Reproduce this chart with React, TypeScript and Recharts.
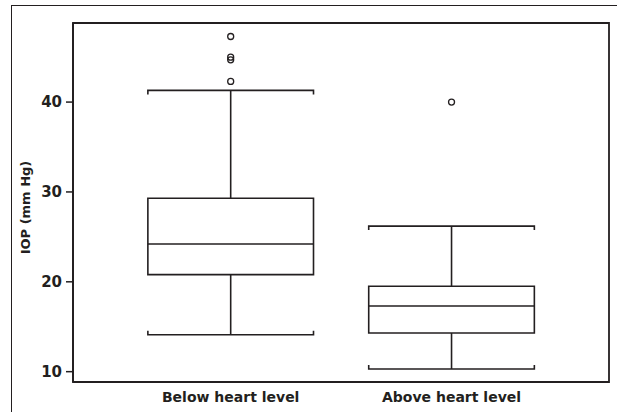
import React from "react";
import {
  ComposedChart,
  XAxis,
  YAxis,
  Scatter,
  ReferenceArea,
  ReferenceLine,
} from "recharts";

const categories = ["Below heart level", "Above heart level"];
const whiskerLow = [14.1, 10.3];
const q1 = [20.8, 14.3];
const median = [24.2, 17.3];
const q3 = [29.3, 19.5];
const whiskerHigh = [41.3, 26.2];
const outliers = [
  { x: 1, y: 47.3 },
  { x: 1, y: 45.0 },
  { x: 1, y: 44.7 },
  { x: 1, y: 42.3 },
  { x: 2, y: 40.0 },
];
const yTicks = [10, 20, 30, 40];

const X_DOMAIN = [0.286, 2.713];
const Y_DOMAIN = [8.85, 48.8];

const INK = "#231f20";
const HALF = 0.375; // half box width, in x units
const FONT = "'DejaVu Sans', sans-serif";

// whisker cap with little serifs pointing toward the box
const capShape = (dir: number) => (props: any) => {
  const { x1, y1, x2, y2 } = props;
  const s = 4 * dir;
  return (
    <path
      d={`M${x1},${y1 + s}L${x1},${y1}L${x2},${y2}L${x2},${y2 + s}`}
      fill="none"
      stroke={INK}
      strokeWidth={1.6}
    />
  );
};

const OpenCircle = (props: any) => (
  <circle
    cx={props.cx}
    cy={props.cy}
    r={3}
    fill="none"
    stroke={INK}
    strokeWidth={1.3}
  />
);

export default function App() {
  return (
    <div
      style={{
        position: "absolute",
        left: 0,
        top: 0,
        width: 617,
        height: 412,
        background: "#fff",
        overflow: "hidden",
      }}
    >
      <div
        style={{
          position: "absolute",
          left: 11,
          top: 5,
          width: 620,
          height: 420,
          borderTop: `1.5px solid ${INK}`,
          borderLeft: `1.5px solid ${INK}`,
        }}
      />
      <div style={{ position: "absolute", left: 0, top: 0 }}>
        <ComposedChart
          width={617}
          height={412}
          margin={{ top: 23, right: 8, left: 0, bottom: 0 }}
        >
          <XAxis
            type="number"
            dataKey="x"
            domain={X_DOMAIN}
            ticks={[1, 2]}
            tickFormatter={(v: number) => categories[v - 1] ?? ""}
            tickLine={false}
            axisLine={{ stroke: INK, strokeWidth: 1.8 }}
            tick={{
              fill: INK,
              fontSize: 14,
              fontWeight: "bold",
              fontFamily: FONT,
            }}
            tickMargin={4}
            height={30}
            interval={0}
            allowDataOverflow
          />
          <YAxis
            type="number"
            domain={Y_DOMAIN}
            ticks={yTicks}
            tickSize={7}
            tickMargin={4}
            tickLine={{ stroke: INK, strokeWidth: 1.5 }}
            axisLine={{ stroke: INK, strokeWidth: 1.8 }}
            tick={{
              fill: INK,
              fontSize: 15,
              fontWeight: "bold",
              fontFamily: FONT,
            }}
            width={73}
            allowDataOverflow
            label={{
              value: "IOP (mm Hg)",
              angle: -90,
              position: "insideLeft",
              dx: 20,
              dy: 5,
              style: {
                fill: INK,
                fontSize: 13,
                fontWeight: "bold",
                fontFamily: FONT,
                textAnchor: "middle",
              },
            }}
          />
          {/* plot frame */}
          <ReferenceArea
            x1={X_DOMAIN[0]}
            x2={X_DOMAIN[1]}
            y1={Y_DOMAIN[0]}
            y2={Y_DOMAIN[1]}
            fill="none"
            stroke={INK}
            strokeWidth={1.8}
            ifOverflow="visible"
          />
          {categories.map((_, i) => {
            const c = i + 1;
            return (
              <React.Fragment key={i}>
                <ReferenceLine
                  segment={[
                    { x: c, y: q3[i] },
                    { x: c, y: whiskerHigh[i] },
                  ]}
                  stroke={INK}
                  strokeWidth={1.6}
                />
                <ReferenceLine
                  segment={[
                    { x: c, y: whiskerLow[i] },
                    { x: c, y: q1[i] },
                  ]}
                  stroke={INK}
                  strokeWidth={1.6}
                />
                <ReferenceLine
                  segment={[
                    { x: c - HALF, y: whiskerHigh[i] },
                    { x: c + HALF, y: whiskerHigh[i] },
                  ]}
                  shape={capShape(1)}
                />
                <ReferenceLine
                  segment={[
                    { x: c - HALF, y: whiskerLow[i] },
                    { x: c + HALF, y: whiskerLow[i] },
                  ]}
                  shape={capShape(-1)}
                />
                <ReferenceArea
                  x1={c - HALF}
                  x2={c + HALF}
                  y1={q1[i]}
                  y2={q3[i]}
                  fill="#fff"
                  fillOpacity={1}
                  stroke={INK}
                  strokeWidth={1.6}
                />
                <ReferenceLine
                  segment={[
                    { x: c - HALF, y: median[i] },
                    { x: c + HALF, y: median[i] },
                  ]}
                  stroke={INK}
                  strokeWidth={1.6}
                />
              </React.Fragment>
            );
          })}
          <Scatter
            data={outliers}
            dataKey="y"
            shape={<OpenCircle />}
            isAnimationActive={false}
          />
        </ComposedChart>
      </div>
    </div>
  );
}
